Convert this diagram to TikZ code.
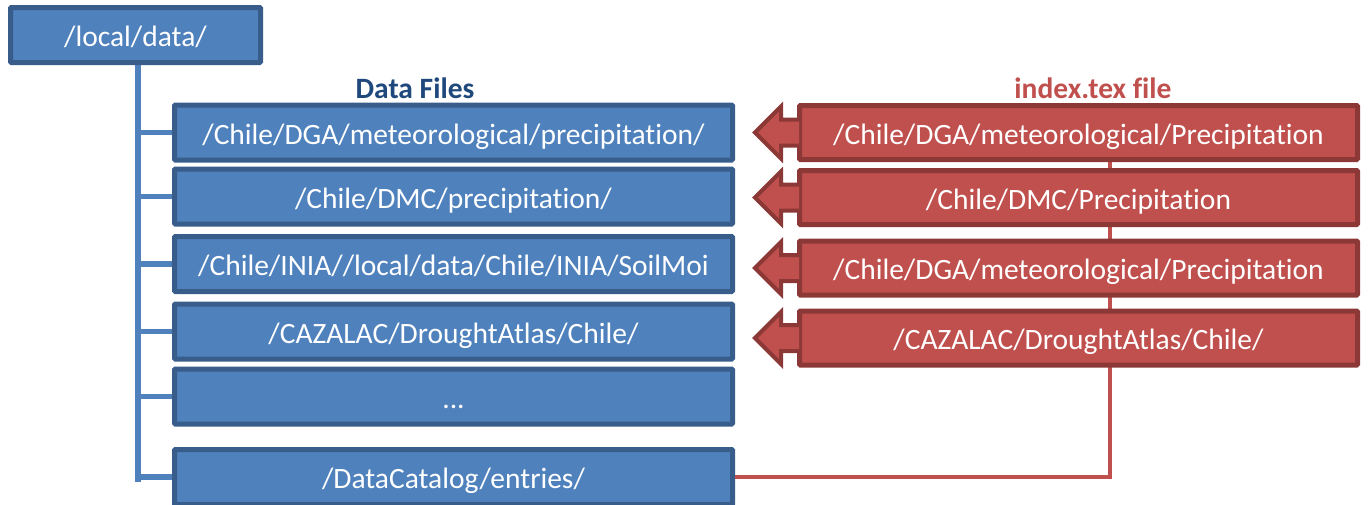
\documentclass[tikz,border=0pt]{standalone}
\usepackage{fontspec}
\setmainfont[Ligatures=NoCommon]{Carlito}
\usetikzlibrary{calc}
\definecolor{bfill}{HTML}{4F81BD}
\definecolor{bline}{HTML}{385D8A}
\definecolor{rfill}{HTML}{C0504D}
\definecolor{rline}{HTML}{8C3836}
\definecolor{btitle}{HTML}{1F497D}
\tikzset{
  boxbase/.style={line width=5pt, rounded corners=1pt,
    minimum width=558pt, inner sep=0pt, text=white,
    font=\fontsize{29.5}{32}\selectfont, text height=23pt, text depth=0pt},
  bbox/.style={boxbase, draw=bline, fill=bfill, minimum height=55pt},
  rbox/.style={boxbase, draw=rline, fill=rfill, minimum height=54pt},
  tree/.style={draw=bfill, line width=5.5pt},
  rconn/.style={draw=rfill, line width=4pt},
  barrow/.style={fill=rfill, draw=rline, line width=4pt, line join=miter},
  ttl/.style={font=\bfseries\fontsize{29.5}{32}\selectfont}
}
\begin{document}
\begin{tikzpicture}[x=1pt,y=-1pt]
\useasboundingbox (0,0) rectangle (1368,504);
% titles
\node[ttl, text=btitle] (t1) at (415,88) {Data Files};
\node[ttl, text=rfill] (t2) at (1093,88) {index.tex file};
% tree connectors
\coordinate (vt) at (138,60);
\coordinate (vb) at (138,482);
\draw[tree] (vt) -- (vb);
% red connector top end
\coordinate (rt) at (1110,140);
% blue nodes
\node[bbox, minimum width=250pt] (root) at (135.5,35) {/local/data/};
\node[bbox] (b1) at (453.5,132.5) {/Chile/DGA/meteorological/precipitation/};
\node[bbox] (b2) at (453.5,196.5) {/Chile/DMC/precipitation/};
\node[bbox] (b3) at (453.5,264) {/Chile/INIA//local/data/Chile/INIA/SoilMoi};
\node[bbox] (b4) at (453.5,331.5) {/CAZALAC/DroughtAtlas/Chile/};
\node[bbox] (b5) at (453.5,396.5) {...};
\node[bbox] (b6) at (453.5,477) {/DataCatalog/entries/};
\foreach \b in {b1,b2,b3,b4,b5,b6}
  \draw[tree] (vt |- \b.west) -- (\b.west);
\draw[rconn] (b6.east) -| (rt);
% red nodes
\node[rbox] (r1) at (1078.5,132.5) {/Chile/DGA/meteorological/Precipitation};
\node[rbox] (r2) at (1078.5,197.5) {/Chile/DMC/Precipitation};
\node[rbox] (r3) at (1078.5,268) {/Chile/DGA/meteorological/Precipitation};
\node[rbox] (r4) at (1078.5,338) {/CAZALAC/DroughtAtlas/Chile/};
% block arrows
\foreach \r in {r1,r2,r3,r4}{
  \draw[barrow] ($(\r.west)+(2,-13)$) -- ($(\r.west)+(-16,-13)$) -- ($(\r.west)+(-16,-26)$)
     -- ($(\r.west)+(-42,0)$) -- ($(\r.west)+(-16,26)$) -- ($(\r.west)+(-16,13)$)
     -- ($(\r.west)+(2,13)$);
}
\end{tikzpicture}
\end{document}
